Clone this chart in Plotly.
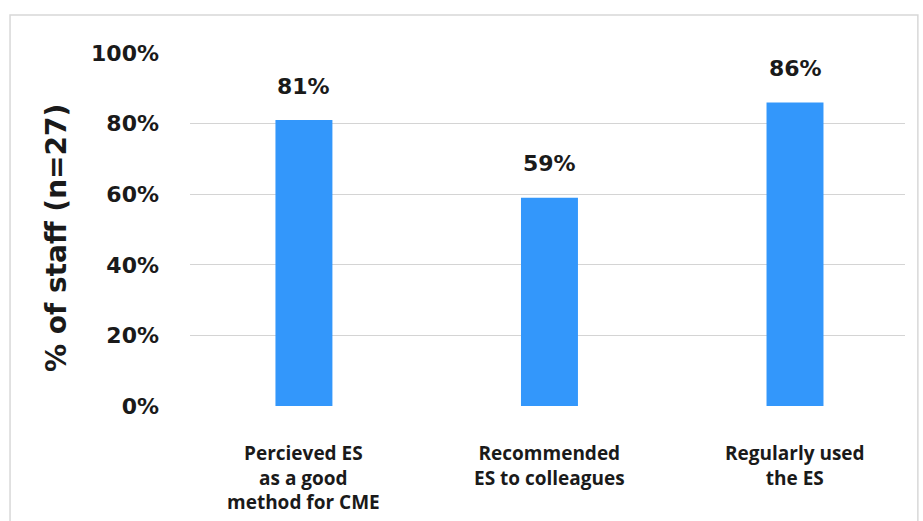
import plotly.graph_objects as go

categories = ["Percieved ES<br>as a good<br>method for CME",
              "Recommended<br>ES to colleagues",
              "Regularly used<br>the ES"]
values = [81, 59, 86]
value_labels = ["81%", "59%", "86%"]
y_ticks = [0, 20, 40, 60, 80, 100]
y_tick_labels = ["0%", "20%", "40%", "60%", "80%", "100%"]
y_title = "% of staff (n=27)"

FONT = "Open Sans"
NUMFONT = "DejaVu Sans"
TXT = "#1a1a1a"
BLUE = "#3397fb"

xs = list(range(len(categories)))

fig = go.Figure()
fig.add_trace(go.Bar(x=xs, y=values, width=0.232, marker_color=BLUE,
                     marker_line_width=0, hoverinfo="skip"))

for x, v, t in zip(xs, values, value_labels):
    fig.add_annotation(x=x, y=v, text=t, showarrow=False, yanchor="middle",
                       yshift=34, font=dict(family=NUMFONT, size=22, color=TXT,
                                            weight=700))

# category labels below the axis
for x, cat in zip(xs, categories):
    fig.add_annotation(x=x, xref="x", y=0, yref="paper", text=cat,
                       showarrow=False, yanchor="top", yshift=-32,
                       font=dict(family=FONT, size=19, color=TXT, weight=700))

# y-axis title
fig.add_annotation(x=-0.186, xref="paper", y=0.476, yref="paper",
                   text=y_title, textangle=-90, showarrow=False,
                   xanchor="center", yanchor="middle",
                   font=dict(family=NUMFONT, size=28, color=TXT, weight=700))

fig.update_layout(
    width=923, height=521,
    margin=dict(l=190, r=18, t=53, b=115),
    paper_bgcolor="white", plot_bgcolor="white",
    showlegend=False,
    font=dict(family=FONT, color=TXT),
    xaxis=dict(range=[-0.464, 2.448], tickmode="array", tickvals=xs,
               showticklabels=False, showgrid=False, zeroline=False,
               showline=False, ticks=""),
    yaxis=dict(range=[0, 100], tickmode="array", tickvals=y_ticks,
               ticktext=y_tick_labels, showgrid=True, gridcolor="#d4d4d4",
               gridwidth=1, zeroline=False, showline=False, ticks="",
               ticklabelstandoff=30,
               tickfont=dict(family=NUMFONT, size=22, color=TXT, weight=700)),
)

fig.add_shape(type="rect", xref="paper", yref="paper",
              x0=-0.2517, x1=1.018, y0=-0.35, y1=1.1076,
              line=dict(color="#d8d8d8", width=1.5), layer="below")

fig.write_html("out.html")
